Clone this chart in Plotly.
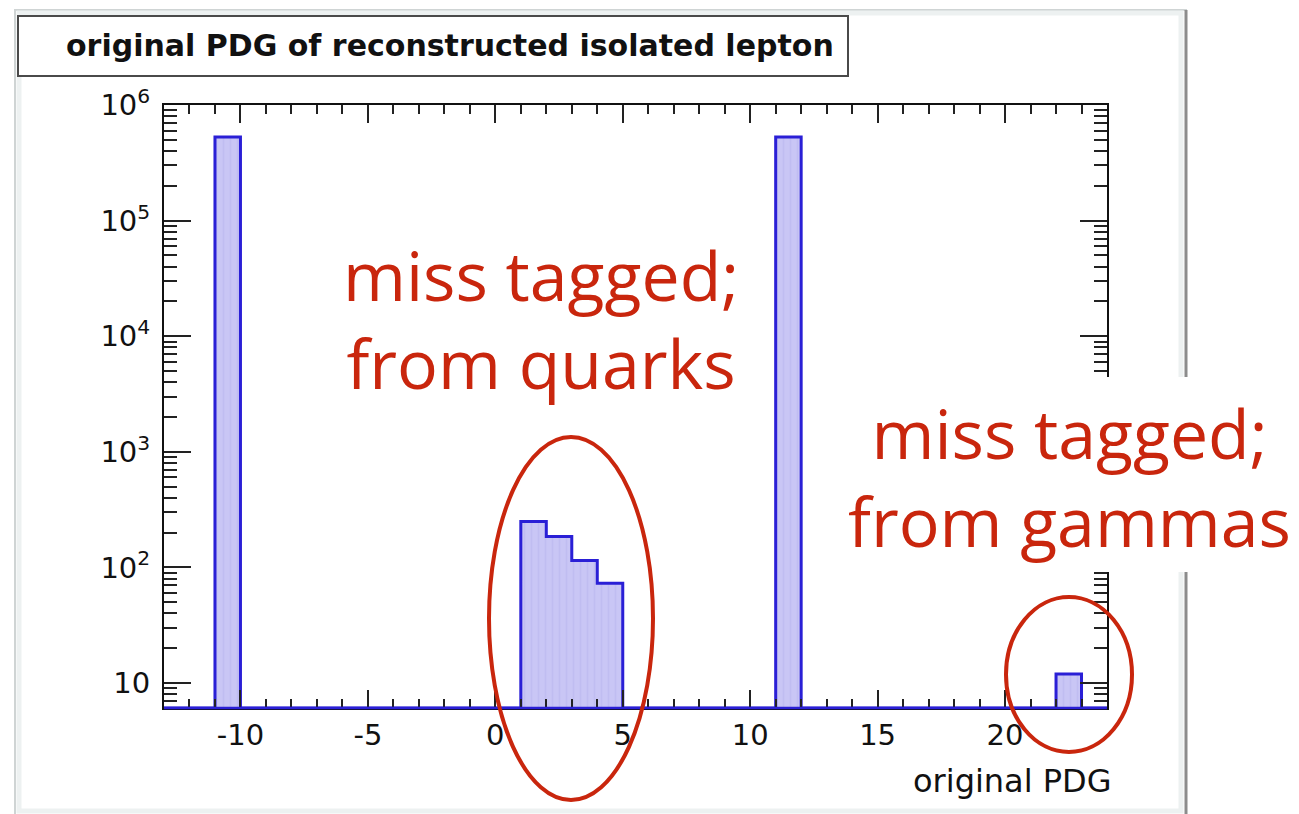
import math
import plotly.graph_objects as go

# ---- data ----
bin_low = [-11, 1, 2, 3, 4, 11, 22]          # lower bin edges of filled bins (bin width 1)
counts = [530000, 250, 185, 115, 73, 530000, 12]
x_min, x_max = -13, 24
y_log_range = [0.784, 6.0]
x_tick_vals = [-10, -5, 0, 5, 10, 15, 20]
x_tick_text = ["-10", "-5", "0", "5", "10", "15", "20"]
y_tick_vals = [10, 100, 1000, 10000, 100000, 1000000]
y_tick_text = ["10", "10<sup>2</sup>", "10<sup>3</sup>", "10<sup>4</sup>", "10<sup>5</sup>", "10<sup>6</sup>"]
title_text = "original PDG of reconstructed isolated lepton"
x_title = "original PDG"
note_quarks = "miss tagged;<br>from quarks"
note_gammas = "miss tagged;<br>from gammas"

# ---- build full histogram ----
edges = list(range(x_min, x_max + 1))
floor_val = 10 ** y_log_range[0]
full = {e: 0 for e in edges[:-1]}
for lo, c in zip(bin_low, counts):
    full[lo] = c
full_counts = [full[e] for e in edges[:-1]]
outline_y = [c if c > 0 else floor_val for c in full_counts]
outline_y = outline_y + [outline_y[-1]]

centers = [lo + 0.5 for lo in bin_low]

OFF = 8  # page body margin
W, H = 1299 - OFF, 814 - OFF
L, R, T, B = 164, 1107, 105, 708   # plot area in reference pixel coords
pw, ph = R - L, B - T


def px(x):
    return (x - L) / pw


def py(y):
    return (B - y) / ph


RED = "#c9260d"
BLUE = "#2a1fd6"
FILL = "#c9c6f5"

fig = go.Figure()
fig.add_trace(go.Bar(
    x=centers, y=counts, width=1,
    marker=dict(color=FILL, line=dict(width=0),
                pattern=dict(shape="|", fgcolor="#b8b4ee", size=7, solidity=0.25, bgcolor=FILL)),
    hoverinfo="skip", showlegend=False,
))
fig.add_trace(go.Scatter(
    x=edges, y=outline_y, mode="lines", line=dict(shape="hv", color=BLUE, width=3),
    hoverinfo="skip", showlegend=False, cliponaxis=False,
))

font_axis = dict(family="DejaVu Sans", size=29, color="#111")

minor_vals = [m * 10 ** k for k in range(0, 6) for m in range(2, 10)
              if y_log_range[0] <= math.log10(m * 10 ** k) <= y_log_range[1]]

fig.update_xaxes(
    range=[x_min, x_max], tickmode="array", tickvals=x_tick_vals, ticktext=x_tick_text,
    ticks="inside", ticklen=18, tickwidth=1.5,
    tickcolor="#222", showline=True, linecolor="#111", linewidth=2, mirror="allticks",
    showgrid=False, zeroline=False, tickfont=font_axis, ticklabelstandoff=0,
    minor=dict(dtick=1, tick0=0, ticks="inside", ticklen=9, tickwidth=1.5, tickcolor="#222", showgrid=False),
)
fig.update_yaxes(
    type="log", range=y_log_range, tickmode="array", tickvals=y_tick_vals, ticktext=y_tick_text,
    ticks="inside", ticklen=27, tickwidth=1.5, tickcolor="#222",
    showline=True, linecolor="#111", linewidth=2, mirror="allticks",
    showgrid=False, zeroline=False, tickfont=font_axis, ticklabelstandoff=6,
    minor=dict(tickmode="array", tickvals=minor_vals, ticks="inside", ticklen=13, tickwidth=1.5,
               tickcolor="#222", showgrid=False),
)

shapes = [
    # outer frame
    dict(type="rect", xref="paper", yref="paper", x0=px(15), x1=px(1186), y0=py(830), y1=py(10),
         line=dict(color="#cfd4d4", width=2), layer="below"),
    dict(type="rect", xref="paper", yref="paper", x0=px(19), x1=px(1181), y0=py(811), y1=py(13),
         line=dict(color="#edf1f1", width=5), layer="below"),
    dict(type="line", xref="paper", yref="paper", x0=px(1186), x1=px(1186), y0=py(830), y1=py(10),
         line=dict(color="#8c8c8c", width=3), layer="below"),
    # title box
    dict(type="rect", xref="paper", yref="paper", x0=px(18), x1=px(848), y0=py(76), y1=py(16),
         line=dict(color="#4a4a4a", width=2), fillcolor="white", layer="below"),
    # blue histogram baseline over the axis
    dict(type="line", xref="x", yref="paper", x0=x_min, x1=x_max, y0=0, y1=0,
         line=dict(color=BLUE, width=2.5), layer="above"),
    # white box behind the gammas note
    dict(type="rect", xref="paper", yref="paper", x0=px(840), x1=px(1310), y0=py(572), y1=py(377),
         line=dict(width=0), fillcolor="white", layer="above"),
    # ellipses
    dict(type="circle", xref="paper", yref="paper", x0=px(489), x1=px(653), y0=py(800), y1=py(437),
         line=dict(color=RED, width=4), layer="above"),
    dict(type="circle", xref="paper", yref="paper", x0=px(1006), x1=px(1132), y0=py(752), y1=py(597),
         line=dict(color=RED, width=4), layer="above"),
]

annotations = [
    dict(text="<b>" + title_text + "</b>", xref="paper", yref="paper", x=px(450), y=py(46),
         xanchor="center", yanchor="middle", showarrow=False,
         font=dict(family="DejaVu Sans", size=30, color="#111")),
    dict(text=x_title, xref="paper", yref="paper", x=px(1114), y=py(781),
         xanchor="right", yanchor="middle", showarrow=False,
         font=dict(family="DejaVu Sans", size=32, color="#111")),
    dict(text=note_quarks, xref="paper", yref="paper", x=px(541), y=py(318),
         xanchor="center", yanchor="middle", showarrow=False,
         font=dict(family="Open Sans", size=68, color=RED)),
    dict(text=note_gammas, xref="paper", yref="paper", x=px(1069), y=py(476),
         xanchor="center", yanchor="middle", showarrow=False,
         font=dict(family="Open Sans", size=68, color=RED)),
]

fig.update_layout(
    width=W, height=H, autosize=False,
    margin=dict(l=L - OFF, r=(1299 - OFF) - (R - OFF), t=T - OFF, b=(814 - OFF) - (B - OFF), pad=0),
    paper_bgcolor="white", plot_bgcolor="white",
    bargap=0, showlegend=False,
    shapes=shapes, annotations=annotations,
)

fig.write_html("out.html")
